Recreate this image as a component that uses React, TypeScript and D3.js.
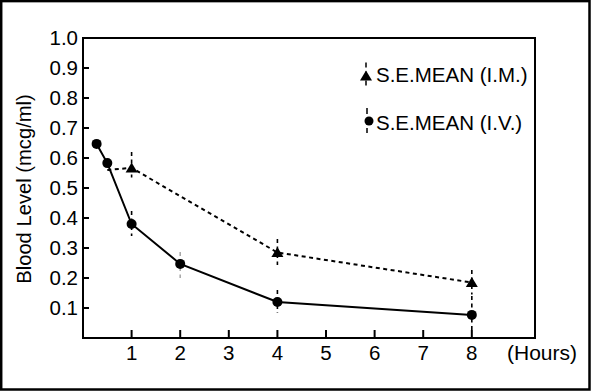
import React from "react";
import * as d3 from "d3";

const IV_HOURS = [0.28, 0.5, 1, 2, 4, 8];
const IV_VALUES = [0.647, 0.583, 0.38, 0.247, 0.12, 0.077];
const IV_ERR_HOURS = [1, 2, 4, 8];
const IV_ERR_LOW = [0.34, 0.2, 0.083, 0.015];
const IV_ERR_HIGH = [0.423, 0.287, 0.16, 0.14];
const IV_ERR_GRAY = [false, true, false, false];

const IM_HOURS = [0.5, 1, 4, 8];
const IM_VALUES = [0.56, 0.567, 0.285, 0.185];
const IM_MARKED = [false, true, true, true];
const IM_ERR_HOURS = [1, 4, 8];
const IM_ERR_LOW = [0.535, 0.243, 0.145];
const IM_ERR_HIGH = [0.62, 0.33, 0.227];

const X_TICKS = [1, 2, 3, 4, 5, 6, 7, 8];
const Y_TICKS = [0.1, 0.2, 0.3, 0.4, 0.5, 0.6, 0.7, 0.8, 0.9, 1.0];
const LEGEND_LABELS = ["S.E.MEAN (I.M.)", "S.E.MEAN (I.V.)"];
const X_UNIT = "(Hours)";
const Y_TITLE = "Blood Level (mcg/ml)";

const W = 591;
const H = 391;
const L = 83, T = 38, R = 535, B = 338;
const FONT = "'Liberation Sans', Arial, Helvetica, sans-serif";

const tri = "M0,-5.5 L6,4.5 L-6,4.5 Z";

export default function App() {
  const x = d3.scaleLinear().domain([0, 9.3]).range([L, R]);
  const y = d3.scaleLinear().domain([0, 1]).range([B, T]);
  const line = d3
    .line<[number, number]>()
    .x((d) => x(d[0]))
    .y((d) => y(d[1]));
  const ivPts = IV_HOURS.map((h, i) => [h, IV_VALUES[i]] as [number, number]);
  const imPts = IM_HOURS.map((h, i) => [h, IM_VALUES[i]] as [number, number]);

  return (
    <svg
      width={W}
      height={H}
      style={{ position: "absolute", left: 0, top: 0, background: "#fff" }}
      fontFamily={FONT}
    >
      <rect x={1.2} y={1.1} width={588.3} height={388.4} fill="#fff" stroke="#000" strokeWidth={2.5} />

      {/* error bars */}
      {IV_ERR_HOURS.map((h, i) => (
        <line
          key={"ive" + i}
          x1={x(h)}
          x2={x(h)}
          y1={y(IV_ERR_HIGH[i])}
          y2={y(IV_ERR_LOW[i])}
          stroke={IV_ERR_GRAY[i] ? "#aaa" : "#000"}
          strokeWidth={1.6}
          strokeDasharray="4,3.5"
        />
      ))}
      {IM_ERR_HOURS.map((h, i) => (
        <line
          key={"ime" + i}
          x1={x(h)}
          x2={x(h)}
          y1={y(IM_ERR_HIGH[i])}
          y2={y(IM_ERR_LOW[i])}
          stroke="#000"
          strokeWidth={1.6}
          strokeDasharray="4,3.5"
        />
      ))}

      {/* lines */}
      <path d={line(imPts) || ""} fill="none" stroke="#000" strokeWidth={2} strokeDasharray="4,3.5" />
      <path d={line(ivPts) || ""} fill="none" stroke="#000" strokeWidth={2} />

      {/* markers */}
      {ivPts.map((p, i) => (
        <circle key={"ivm" + i} cx={x(p[0])} cy={y(p[1])} r={5} fill="#000" />
      ))}
      {imPts.map((p, i) =>
        IM_MARKED[i] ? (
          <path key={"imm" + i} d={tri} transform={`translate(${x(p[0])},${y(p[1])})`} fill="#000" />
        ) : null
      )}

      {/* frame */}
      <rect x={L} y={T} width={R - L} height={B - T} fill="none" stroke="#000" strokeWidth={2} />

      {/* y ticks */}
      {Y_TICKS.map((v) => (
        <g key={"yt" + v}>
          <line x1={L} x2={L + 6} y1={y(v)} y2={y(v)} stroke="#000" strokeWidth={2} />
          <text x={78} y={y(v) + 7} textAnchor="end" fontSize={20.5} fill="#000">
            {v.toFixed(1)}
          </text>
        </g>
      ))}
      {/* x ticks */}
      {X_TICKS.map((v) => (
        <g key={"xt" + v}>
          <line x1={x(v)} x2={x(v)} y1={B} y2={B - 8} stroke="#000" strokeWidth={2} />
          <text x={x(v)} y={359.5} textAnchor="middle" fontSize={20.5} fill="#000">
            {v}
          </text>
        </g>
      ))}
      <text x={507} y={359.5} fontSize={21} fill="#000">
        {X_UNIT}
      </text>
      <text
        transform={`translate(31,189) rotate(-90)`}
        textAnchor="middle"
        fontSize={20.2}
        fill="#000"
      >
        {Y_TITLE}
      </text>

      {/* legend */}
      <line x1={366} x2={366} y1={62.5} y2={88} stroke="#000" strokeWidth={1.5} strokeDasharray="5,4" />
      <path d={tri} transform="translate(366,76)" fill="#000" />
      <text x={376} y={81.5} fontSize={20.5} fill="#000">
        {LEGEND_LABELS[0]}
      </text>
      <line x1={367} x2={367} y1={108} y2={133} stroke="#000" strokeWidth={1.5} strokeDasharray="6,4" />
      <circle cx={369} cy={121} r={4.5} fill="#000" />
      <text x={376} y={130} fontSize={20.5} fill="#000">
        {LEGEND_LABELS[1]}
      </text>
    </svg>
  );
}
